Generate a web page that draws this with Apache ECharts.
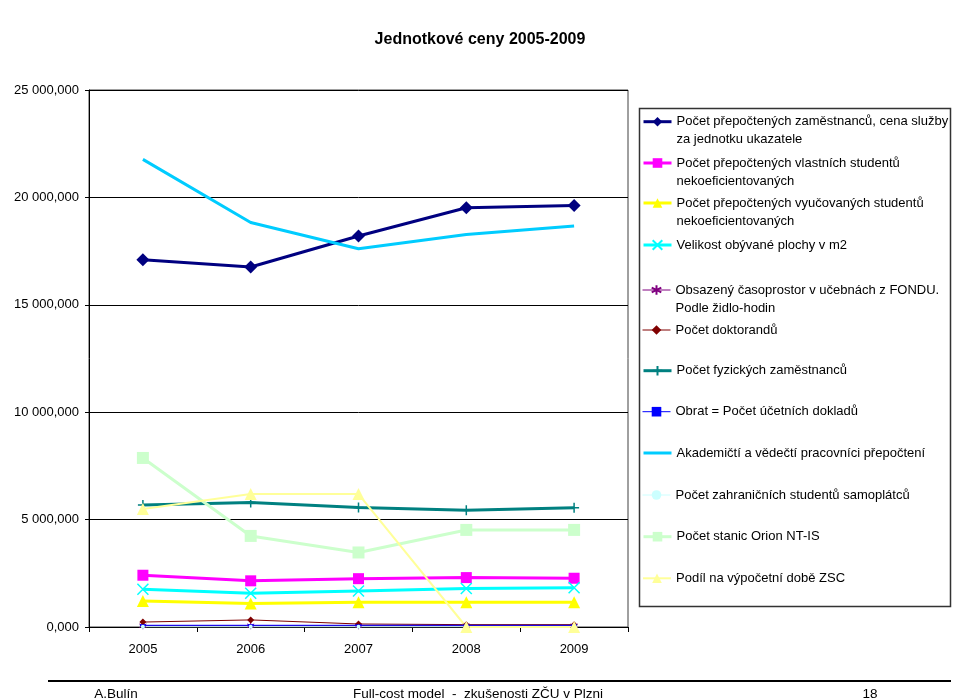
<!DOCTYPE html>
<html><head><meta charset="utf-8">
<script src="https://cdn.jsdelivr.net/npm/echarts@6/dist/echarts.min.js"></script>
<style>html,body{margin:0;padding:0;background:#fff}#c{width:960px;height:699px}</style>
</head><body><div id="c"></div>
<script>
// ---- data ----
const years = ['2005', '2006', '2007', '2008', '2009'];
const yAxisMin = 0, yAxisMax = 25000, yAxisStep = 5000;

const legendLines = [
  ['Počet přepočtených zaměstnanců, cena služby', 'za jednotku ukazatele'],
  ['Počet přepočtených vlastních studentů', 'nekoeficientovaných'],
  ['Počet přepočtených vyučovaných studentů', 'nekoeficientovaných'],
  ['Velikost obývané plochy v m2'],
  ['Obsazený časoprostor v učebnách z FONDU.', 'Podle židlo-hodin'],
  ['Počet doktorandů'],
  ['Počet fyzických zaměstnanců'],
  ['Obrat = Počet účetních dokladů'],
  ['Akademičtí a vědečtí pracovníci přepočtení'],
  ['Počet zahraničních studentů samoplátců'],
  ['Počet stanic Orion NT-IS'],
  ['Podíl na výpočetní době ZSC']
];

const zamestnanciCena   = [17100, 16760, 18200, 19520, 19620];
const vlastniStudenti   = [2410, 2150, 2250, 2300, 2270];
const vyucovaniStudenti = [1210, 1090, 1150, 1150, 1150];
const plocha            = [1760, 1570, 1680, 1790, 1830];
const casoprostor       = [60, 60, 60, 60, 60];
const doktorandi        = [230, 330, 140, 110, 110];
const fyzictiZam        = [5680, 5800, 5560, 5440, 5550];
const obrat             = [80, 80, 80, 80, 80];
const akademicti        = [21770, 18830, 17610, 18270, 18670];
const zahranicni        = [10, 10, 10, 10, 10];
const orion             = [7870, 4240, 3470, 4520, 4520];
const podilZSC          = [5490, 6190, 6190, 0, 0];

const seriesValues = [zamestnanciCena, vlastniStudenti, vyucovaniStudenti, plocha,
  casoprostor, doktorandi, fyzictiZam, obrat, akademicti, zahranicni, orion, podilZSC];

// ---- styles ----
const FONT = "'Liberation Sans',Arial,sans-serif";
const styles = [
  {color: '#000080', width: 3, symbol: 'diamond', size: 13},
  {color: '#FF00FF', width: 3, symbol: 'rect', size: 11},
  {color: '#FFFF00', width: 3, symbol: 'triangle', size: 12},
  {color: '#00FFFF', width: 3, symbol: 'path://M0,0L10,10M10,0L0,10', size: 11, stroke: 1.5},
  {color: '#800080', width: 1, symbol: 'path://M5,0L5,10M0,2.5L10,7.5M0,7.5L10,2.5', size: 7, stroke: 1},
  {color: '#800000', width: 1, symbol: 'diamond', size: 7},
  {color: '#008080', width: 3, symbol: 'path://M5,0L5,10M0,5L10,5', size: 10, stroke: 1.5},
  {color: '#0000FF', width: 1, symbol: 'rect', size: [6, 2]},
  {color: '#00CCFF', width: 3, symbol: 'circle', size: 0, hideSymbol: true},
  {color: '#CCFFFF', width: 1, symbol: 'circle', size: 4},
  {color: '#CCFFCC', width: 3, symbol: 'rect', size: 12},
  {color: '#FFFF99', width: 2, symbol: 'triangle', size: 12}
];
const legendY = [121.7, 163, 203, 245, 290, 330, 370.7, 411.7, 453, 495, 536.7, 578.3];

const names = legendLines.map(l => l.join(' '));

const series = names.map((n, i) => {
  const s = styles[i];
  return {
    name: n, type: 'line', data: seriesValues[i],
    symbol: s.symbol, symbolSize: s.size, showSymbol: !s.hideSymbol,
    lineStyle: {color: s.color, width: s.width},
    itemStyle: Object.assign({color: s.color},
      s.stroke ? {borderColor: s.color, borderWidth: s.stroke} : {},
      s.hideSymbol ? {opacity: 0} : {}),
    emphasis: {disabled: true},
    animation: false
  };
});

const legends = names.map((n, i) => {
  const two = legendLines[i].length > 1;
  return {
    data: [n], orient: 'vertical', left: 642,
    top: two ? legendY[i] - 27 : legendY[i] - 9,
    padding: 0, itemWidth: 28, itemHeight: 12, selectedMode: false,
    formatter: () => two ? ' \n' + legendLines[i].join('\n') : legendLines[i][0],
    textStyle: {fontFamily: FONT, fontSize: 13, lineHeight: 18, color: '#000'},
    lineStyle: {width: 'inherit'},
    itemStyle: styles[i].hideSymbol ? {opacity: 0} : {}
  };
});

function fmt(v) {
  const s = String(Math.round(v));
  return s.replace(/\B(?=(\d{3})+(?!\d))/g, ' ') + ',000';
}

const chart = echarts.init(document.getElementById('c'));
chart.setOption({
  backgroundColor: '#fff',
  animation: false,
  title: {
    text: 'Jednotkové ceny 2005-2009', left: 'center', top: 27,
    textStyle: {fontFamily: FONT, fontSize: 16, fontWeight: 'bold', color: '#000'}
  },
  grid: {left: 89, right: 332, top: 90, bottom: 72, show: true,
    borderColor: '#404040', borderWidth: 1, backgroundColor: '#fff',
    containLabel: false, outerBoundsMode: 'none'},
  legend: legends,
  xAxis: {
    type: 'category', data: years, boundaryGap: true,
    axisLine: {lineStyle: {color: '#000', width: 1}},
    axisTick: {show: true, length: 5, lineStyle: {color: '#000'}},
    axisLabel: {fontFamily: FONT, fontSize: 13, color: '#000', margin: 16}
  },
  yAxis: {
    type: 'value', min: yAxisMin, max: yAxisMax, interval: yAxisStep,
    axisLine: {show: true, lineStyle: {color: '#000', width: 1}},
    axisTick: {show: true, length: 4, lineStyle: {color: '#000'}},
    splitLine: {lineStyle: {color: '#000', width: 1}},
    axisLabel: {fontFamily: FONT, fontSize: 13, color: '#000', margin: 10, formatter: fmt}
  },
  series: series,
  graphic: [
    {type: 'rect', shape: {x: 639.5, y: 108.5, width: 311, height: 498}, z: -1,
      style: {fill: '#fff', stroke: '#333', lineWidth: 1.5}, silent: true},
    {type: 'line', shape: {x1: 48, y1: 681, x2: 951, y2: 681},
      style: {stroke: '#000', lineWidth: 2}, silent: true},
    {type: 'text', x: 116, y: 694, silent: true,
      style: {text: 'A.Bulín', font: "13.5px 'Liberation Sans',Arial,sans-serif", fill: '#000', align: 'center', verticalAlign: 'middle'}},
    {type: 'text', x: 478, y: 694, silent: true,
      style: {text: 'Full-cost model  -  zkušenosti ZČU v Plzni', font: "13.5px 'Liberation Sans',Arial,sans-serif", fill: '#000', align: 'center', verticalAlign: 'middle'}},
    {type: 'text', x: 870, y: 694, silent: true,
      style: {text: '18', font: "13.5px 'Liberation Sans',Arial,sans-serif", fill: '#000', align: 'center', verticalAlign: 'middle'}}
  ]
});
</script>
</body></html>
